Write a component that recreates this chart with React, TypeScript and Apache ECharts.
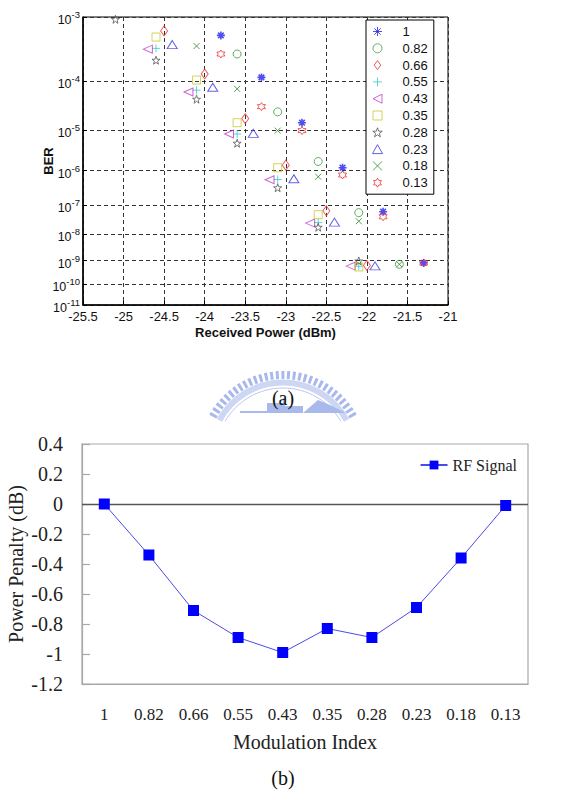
import React, { useEffect, useRef } from 'react';
import * as echarts from 'echarts';

// ---------- Data: chart (a) BER vs received power ----------
const seriesNames = ['1', '0.82', '0.66', '0.55', '0.43', '0.35', '0.28', '0.23', '0.18', '0.13'];
const berExponents = [3, 4, 5, 6, 7, 8, 9, 10, 11];

const berM100 = [[-23.8, 5.5e-4], [-23.3, 1.15e-4], [-22.8, 1.47e-5], [-22.3, 1.2e-6], [-21.8, 6e-8], [-21.3, 8e-10]];
const berM082 = [[-23.6, 2.85e-4], [-23.1, 2.5e-5], [-22.6, 1.75e-6], [-22.1, 5.6e-8], [-21.6, 7e-10]];
const berM066 = [[-24.5, 6.4e-4], [-24.0, 1.32e-4], [-23.5, 1.8e-5], [-23.0, 1.4e-6], [-22.5, 6.4e-8], [-22.0, 6.3e-10]];
const berM055 = [[-24.6, 3.5e-4], [-24.1, 6.7e-5], [-23.6, 8.2e-6], [-23.1, 5.7e-7], [-22.6, 2.6e-8], [-22.1, 5.8e-10]];
const berM043 = [[-24.7, 3.4e-4], [-24.2, 6.2e-5], [-23.7, 8.2e-6], [-23.2, 5.6e-7], [-22.7, 2.5e-8], [-22.2, 5.9e-10]];
const berM035 = [[-24.6, 5.2e-4], [-24.1, 1.03e-4], [-23.6, 1.47e-5], [-23.1, 1.2e-6], [-22.6, 4.8e-8], [-22.1, 5.4e-10]];
const berM028 = [[-25.1, 9.3e-4], [-24.6, 2.26e-4], [-24.1, 4.5e-5], [-23.6, 5e-6], [-23.1, 3.3e-7], [-22.6, 1.8e-8], [-22.1, 9.6e-10]];
const berM023 = [[-24.4, 4e-4], [-23.9, 7.6e-5], [-23.4, 8.5e-6], [-22.9, 6e-7], [-22.4, 2.7e-8], [-21.9, 6e-10]];
const berM018 = [[-24.1, 3.8e-4], [-23.6, 7.1e-5], [-23.1, 9.8e-6], [-22.6, 6.8e-7], [-22.1, 2.9e-8], [-21.6, 7e-10]];
const berM013 = [[-23.8, 2.85e-4], [-23.3, 3.2e-5], [-22.8, 9.8e-6], [-22.3, 7.6e-7], [-21.8, 4.1e-8], [-21.3, 8e-10]];

const berSets = [berM100, berM082, berM066, berM055, berM043, berM035, berM028, berM023, berM018, berM013];

// ---------- Data: chart (b) power penalty ----------
const penaltyCategories = ['1', '0.82', '0.66', '0.55', '0.43', '0.35', '0.28', '0.23', '0.18', '0.13'];
const penaltyValues = [0, -0.34, -0.71, -0.89, -0.99, -0.83, -0.89, -0.69, -0.36, -0.01];

// ---------- Marker shapes ----------
function starPath(n: number, inner: number) {
  const pts: string[] = [];
  for (let i = 0; i < n * 2; i++) {
    const r = i % 2 === 0 ? 10 : 10 * inner;
    const a = -Math.PI / 2 + (i * Math.PI) / n;
    pts.push(`${(10 + r * Math.cos(a)).toFixed(2)},${(10 + r * Math.sin(a)).toFixed(2)}`);
  }
  return 'path://M' + pts.join('L') + 'Z';
}
const asteriskPath = 'path://M5,0L5,10M0,5L10,5M1.5,1.5L8.5,8.5M8.5,1.5L1.5,8.5';
const plusPath = 'path://M5,0L5,10M0,5L10,5';
const xPath = 'path://M0,0L10,10M10,0L0,10';
const leftTriPath = 'path://M0,5L10,0L10,10Z';
const upTriPath = 'path://M5,0L10,9L0,9Z';
const squarePath = 'path://M0,0L10,0L10,10L0,10Z';
const diamondPath = 'path://M4,0L8,5.5L4,11L0,5.5Z';

const markerDefs: any[] = [
  { symbol: asteriskPath, size: 8, color: '#2222ee', width: 1.6 },
  { symbol: 'circle', size: 8, color: '#3a9a3a', width: 1 },
  { symbol: diamondPath, size: [7, 10], color: '#ee3333', width: 1 },
  { symbol: plusPath, size: 8, color: '#33cccc', width: 1 },
  { symbol: leftTriPath, size: [9, 8], color: '#c23cc8', width: 1 },
  { symbol: squarePath, size: 8, color: '#c8c830', width: 1 },
  { symbol: starPath(5, 0.4), size: 8, color: '#555555', width: 1 },
  { symbol: upTriPath, size: [10, 8], color: '#3a3ae0', width: 1 },
  { symbol: xPath, size: 6, color: '#2a8a2a', width: 1 },
  { symbol: starPath(6, 0.58), size: 8, color: '#ee3333', width: 1 },
];

const sans = '"Liberation Sans", Arial, sans-serif';
const serif = '"Liberation Serif", "Times New Roman", serif';
const toY = (ber: number) => Math.log10(-Math.log10(ber));

export default function App() {
  const ref = useRef<HTMLDivElement>(null);

  useEffect(() => {
    if (!ref.current) return;
    const chart = echarts.init(ref.current, undefined, { renderer: 'svg' });

    const yTickVals = berExponents.map((e) => Math.log10(e));

    const scatterSeries = berSets.map((set, i) => {
      const m = markerDefs[i];
      return {
        type: 'scatter',
        name: seriesNames[i],
        xAxisIndex: 0,
        yAxisIndex: 0,
        symbol: m.symbol,
        symbolSize: m.size,
        itemStyle: { color: 'rgba(0,0,0,0)', borderColor: m.color, borderWidth: m.width },
        emphasis: { disabled: true },
        data: set.map((d) => [d[0], toY(d[1])]),
        z: 3,
      };
    });

    const cx = 283;
    const cy = 455;
    const a0 = Math.PI + 0.5;
    const a1 = 2 * Math.PI - 0.5;
    const wm = '#aab9ec';

    const option: any = {
      animation: false,
      backgroundColor: '#fff',
      grid: [
        { left: 83, top: 17, width: 365, height: 288, show: true, borderColor: '#000', borderWidth: 1, containLabel: false, outerBoundsMode: 'none' },
        { left: 82, top: 444, width: 446, height: 240, show: true, borderColor: '#a8a8a8', borderWidth: 1.2, containLabel: false, outerBoundsMode: 'none' },
      ],
      xAxis: [
        {
          gridIndex: 0,
          type: 'value',
          min: -25.5,
          max: -21,
          interval: 0.5,
          axisLine: { show: true, lineStyle: { color: '#000', width: 1.5 } },
          axisTick: { show: true, inside: true, length: 4, lineStyle: { color: '#000' } },
          axisLabel: { fontSize: 13, fontFamily: sans, color: '#111', margin: 5 },
          splitLine: { show: true, lineStyle: { color: '#333', type: [4, 3], width: 1 } },
          name: 'Received Power (dBm)',
          nameLocation: 'middle',
          nameGap: 21,
          nameMoveOverlap: false,
          nameTextStyle: { fontSize: 13, fontWeight: 'bold', fontFamily: sans, color: '#111' },
        },
        {
          gridIndex: 1,
          type: 'category',
          data: penaltyCategories,
          boundaryGap: true,
          axisLine: { show: true, onZero: false, lineStyle: { color: '#a8a8a8', width: 1.2 } },
          axisTick: { show: false },
          axisLabel: { fontSize: 17, fontFamily: serif, color: '#222', margin: 22 },
          splitLine: { show: false },
          name: 'Modulation Index',
          nameLocation: 'middle',
          nameGap: 48,
          nameMoveOverlap: false,
          nameTextStyle: { fontSize: 20, fontFamily: serif, color: '#222' },
        },
      ],
      yAxis: [
        {
          gridIndex: 0,
          type: 'value',
          inverse: true,
          min: Math.log10(3),
          max: Math.log10(11),
          axisLine: { show: true, lineStyle: { color: '#000', width: 1.5 } },
          axisTick: { show: true, inside: true, length: 4, customValues: yTickVals, lineStyle: { color: '#000' } },
          axisLabel: {
            customValues: yTickVals,
            margin: 3,
            formatter: (v: number) => `{b|10}{s|-${Math.round(Math.pow(10, v))}}`,
            rich: {
              b: { fontSize: 12.5, fontFamily: sans, color: '#111', padding: [6, 0, 0, 0] },
              s: { fontSize: 9.5, fontFamily: sans, color: '#111', padding: [0, 0, 5, 0] },
            },
          },
          splitLine: { show: true, lineStyle: { color: '#333', type: [4, 3], width: 1 } },
          name: 'BER',
          nameLocation: 'middle',
          nameGap: 28,
          nameRotate: 90,
          nameMoveOverlap: false,
          nameTextStyle: { fontSize: 13, fontWeight: 'bold', fontFamily: sans, color: '#111' },
        },
        {
          gridIndex: 1,
          type: 'value',
          min: -1.2,
          max: 0.4,
          interval: 0.2,
          axisLine: { show: true, lineStyle: { color: '#a8a8a8', width: 1.2 } },
          axisTick: { show: true, inside: true, length: 8, lineStyle: { color: '#a8a8a8', width: 1.2 } },
          axisLabel: { fontSize: 20, fontFamily: serif, color: '#222', margin: 19 },
          splitLine: { show: false },
          name: 'Power Penalty (dB)',
          nameLocation: 'middle',
          nameGap: 56,
          nameRotate: 90,
          nameMoveOverlap: false,
          nameTextStyle: { fontSize: 20, fontFamily: serif, color: '#222' },
        },
      ],
      legend: [
        {
          data: seriesNames,
          orient: 'vertical',
          left: 366,
          top: 20,
          padding: [5, 6, 5, 6],
          itemWidth: 40,
          itemHeight: 9,
          itemGap: 3.8,
          borderColor: '#000',
          borderWidth: 1,
          backgroundColor: '#fff',
          selectedMode: false,
          itemStyle: { borderWidth: 1 },
          textStyle: { fontSize: 13, fontFamily: sans, color: '#111' },
        },
        {
          data: ['RF Signal'],
          right: 66,
          top: 457,
          padding: 0,
          itemWidth: 27,
          itemHeight: 11,
          selectedMode: false,
          textStyle: { fontSize: 16, fontFamily: serif, color: '#222' },
        },
      ],
      series: [
        ...scatterSeries,
        {
          type: 'line',
          name: 'RF Signal',
          xAxisIndex: 1,
          yAxisIndex: 1,
          data: penaltyValues,
          symbol: 'rect',
          symbolSize: 11,
          itemStyle: { color: '#0000ff' },
          lineStyle: { color: '#4a4ae6', width: 1 },
          emphasis: { disabled: true },
          markLine: {
            silent: true,
            symbol: ['none', 'none'],
            label: { show: false },
            lineStyle: { color: '#555', width: 1.3, type: 'solid' },
            data: [{ yAxis: 0 }],
            z: 1,
          },
          z: 3,
        },
      ],
      graphic: [
        {
          type: 'arc',
          shape: { cx, cy, r: 80, startAngle: a0, endAngle: a1, clockwise: true },
          style: { stroke: wm, lineWidth: 8, lineDash: [3, 2.6], fill: null },
          silent: true,
        },
        {
          type: 'arc',
          shape: { cx, cy, r: 72.5, startAngle: a0, endAngle: a1, clockwise: true },
          style: { stroke: '#cdd6f3', lineWidth: 6, fill: null },
          silent: true,
        },
        {
          type: 'arc',
          shape: { cx, cy, r: 67, startAngle: a0 + 0.03, endAngle: a1 - 0.03, clockwise: true },
          style: { stroke: '#bcc7ee', lineWidth: 1, fill: null },
          silent: true,
        },
        { type: 'rect', shape: { x: 240, y: 411, width: 28, height: 2 }, style: { fill: wm }, silent: true },
        { type: 'rect', shape: { x: 267, y: 403, width: 16, height: 10 }, style: { fill: wm }, silent: true },
        { type: 'rect', shape: { x: 283, y: 398, width: 2, height: 15 }, style: { fill: wm }, silent: true },
        { type: 'rect', shape: { x: 285, y: 406, width: 18, height: 7 }, style: { fill: wm }, silent: true },
        {
          type: 'polygon',
          shape: { points: [[303, 413], [318, 400], [330, 405], [346, 413]] },
          style: { fill: wm },
          silent: true,
        },
        {
          type: 'text',
          x: 283,
          y: 398,
          style: {
            text: '(a)', font: `20px ${serif}`, fill: '#111',
            align: 'center', verticalAlign: 'middle', textAlign: 'center', textVerticalAlign: 'middle',
          },
          silent: true,
        },
        {
          type: 'text',
          x: 283,
          y: 778,
          style: {
            text: '(b)', font: `20px ${serif}`, fill: '#111',
            align: 'center', verticalAlign: 'middle', textAlign: 'center', textVerticalAlign: 'middle',
          },
          silent: true,
        },
      ],
    };

    chart.setOption(option);
    return () => chart.dispose();
  }, []);

  return (
    <div
      ref={ref}
      style={{ position: 'absolute', left: 0, top: 0, width: 583, height: 801 }}
    />
  );
}
